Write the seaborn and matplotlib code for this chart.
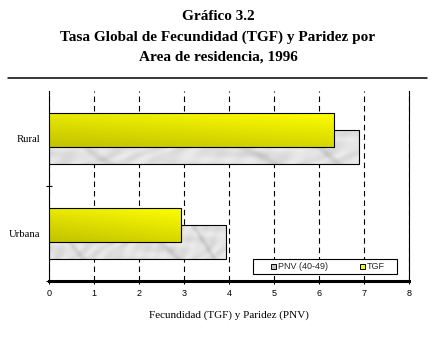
import numpy as np
import pandas as pd
import matplotlib
matplotlib.use("Agg")
import matplotlib.pyplot as plt
import seaborn as sns
from matplotlib.lines import Line2D
from matplotlib.patches import Rectangle

# ---- data ----
areas = ["Rural", "Urbana"]
tgf = [6.34, 2.94]
pnv = [6.89, 3.93]
series = ["TGF", "PNV (40-49)"]
legend_order = ["PNV (40-49)", "TGF"]
xticks = [0, 1, 2, 3, 4, 5, 6, 7, 8]
title_lines = ["Gráfico 3.2",
               "Tasa Global de Fecundidad (TGF) y Paridez por",
               "Area de residencia, 1996"]
xlabel = "Fecundidad (TGF) y Paridez (PNV)"

df = pd.DataFrame({
    "area": areas + areas,
    "serie": [series[0]] * len(areas) + [series[1]] * len(areas),
    "valor": tgf + pnv,
})

sns.set_theme(style="white")
plt.rcParams["font.family"] = ["Liberation Serif", "DejaVu Serif"]

fig = plt.figure(figsize=(4.36, 3.38), dpi=100)
ax = fig.add_axes([48.7 / 436, 1 - 281 / 338, (409.3 - 48.7) / 436, 190 / 338])

palette = {"TGF": "#e6e600", "PNV (40-49)": "#dcdcdc"}
sns.barplot(data=df, x="valor", y="area", hue="serie", hue_order=series,
            order=areas, orient="h", dodge=True, width=0.36, gap=-1,
            palette=palette, edgecolor="black", linewidth=0.8, saturation=1,
            errorbar=None, legend=False, ax=ax)

# textures
H, W = 40, 300
vv, uu = np.mgrid[0:1:H * 1j, 0:1:W * 1j]
b = 1 - 0.08 * (1 - uu) - 0.16 * vv
yellow = np.dstack([b, b, np.zeros_like(b)])
g = (0.885 + 0.025 * np.sin(uu * 37 + 4 * np.sin(vv * 5 + uu * 9))
     - 0.08 * np.clip(np.sin(uu * 19 - vv * 4 + 2 * np.sin(uu * 7)), 0, 1) ** 8
     + 0.012 * np.sin(uu * 90 + vv * 7))
g = np.clip(g, 0, 1)
marble = np.dstack([g, g, g])

zorders = {0: 3, 1: 2}
imgs = {0: yellow, 1: marble}
for ci, cont in enumerate(ax.containers):
    for p in cont:
        p.set_zorder(zorders[ci] + 0.1)
        p.set_facecolor("none")
        x0, y0 = p.get_x(), p.get_y()
        w, h = p.get_width(), p.get_height()
        im = ax.imshow(imgs[ci], extent=(x0, x0 + w, y0 + h, y0), aspect="auto",
                       interpolation="bilinear", zorder=zorders[ci])
        im.set_clip_path(p)

ax.set_xlim(0, 8)
ax.set_ylim(1.5, -0.5)
ax.set_xticks(xticks)
ax.set_xticklabels([str(t) for t in xticks], fontfamily="Liberation Sans", fontsize=6.5)
ax.xaxis.grid(True, linestyle=(0, (5, 3.5)), color="black", linewidth=0.8)
ax.yaxis.grid(False)
ax.set_axisbelow(True)

ax.set_yticks([0.5, 1.5], minor=True)
ax.tick_params(axis="y", which="major", left=False, length=0, pad=6.3, labelsize=7.7, colors="black")
ax.tick_params(axis="y", which="minor", left=True, length=5, width=0.8, direction="inout", color="black")
ax.tick_params(axis="x", which="major", bottom=True, length=2.5, width=0.8, pad=3, color="black", labelcolor="black")
ax.set_ylabel("")
ax.set_xlabel(xlabel, fontsize=8, labelpad=9, color="black")

for s in ["left", "right"]:
    ax.spines[s].set_color("black")
    ax.spines[s].set_linewidth(0.8)
ax.spines["top"].set_visible(False)
ax.spines["bottom"].set_color("black")
ax.spines["bottom"].set_linewidth(2.2)

# legend
ax.add_patch(Rectangle((0.567, 0.035), 0.398, 0.079, transform=ax.transAxes,
                       facecolor="white", edgecolor="black", linewidth=0.8, zorder=5))
leg_colors = {"PNV (40-49)": "#c0c0c0", "TGF": "#ffff00"}
handles = [Line2D([], [], linestyle="none", marker="s", markersize=3.6,
                  markerfacecolor=leg_colors[s], markeredgecolor="black",
                  markeredgewidth=0.7) for s in legend_order]
leg = ax.legend(handles, legend_order, ncol=2, loc="center",
                bbox_to_anchor=(0.7731, 0.0747), frameon=False,
                prop={"family": "Liberation Sans", "size": 6.5},
                handlelength=0.6, handletextpad=0.3, columnspacing=3.4,
                borderpad=0, borderaxespad=0)
leg.set_zorder(6)

# title
for txt, yp in zip(title_lines, [17, 37, 57]):
    fig.text(0.5, 1 - yp / 338, txt, ha="center", va="center",
             fontsize=11, fontweight="bold", color="black")
fig.add_artist(Line2D([8 / 436, 427 / 436], [1 - 78 / 338, 1 - 78 / 338],
                      color="black", linewidth=1.1))

fig.savefig("out.png", dpi=100, facecolor="white")
